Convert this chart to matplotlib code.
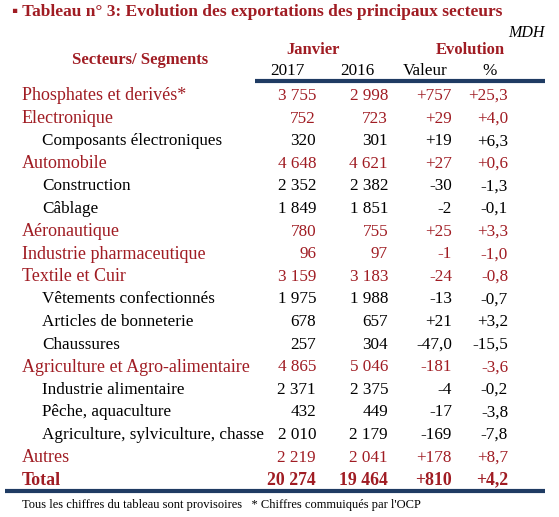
import matplotlib.pyplot as plt

plt.rcParams['font.family'] = ['Liberation Serif', 'DejaVu Serif']

RED = '#a01c23'
NAVY = '#1f3b63'

labels = ['Phosphates et derivés*', 'Electronique', 'Composants électroniques',
          'Automobile', 'Construction', 'Câblage', 'Aéronautique',
          'Industrie pharmaceutique', 'Textile et Cuir', 'Vêtements confectionnés',
          'Articles de bonneterie', 'Chaussures', 'Agriculture et Agro-alimentaire',
          'Industrie alimentaire', 'Pêche, aquaculture',
          'Agriculture, sylviculture, chasse', 'Autres']
is_sector = [1, 1, 0, 1, 0, 0, 1, 1, 1, 0, 0, 0, 1, 0, 0, 0, 1]
v2017 = ['3 755', '752', '320', '4 648', '2 352', '1 849', '780', '96', '3 159',
         '1 975', '678', '257', '4 865', '2 371', '432', '2 010', '2 219']
v2016 = ['2 998', '723', '301', '4 621', '2 382', '1 851', '755', '97', '3 183',
         '1 988', '657', '304', '5 046', '2 375', '449', '2 179', '2 041']
valeur = ['+757', '+29', '+19', '+27', '-30', '-2', '+25', '-1', '-24',
          '-13', '+21', '-47,0', '-181', '-4', '-17', '-169', '+178']
pct = ['+25,3', '+4,0', '+6,3', '+0,6', '-1,3', '-0,1', '+3,3', '-1,0', '-0,8',
       '-0,7', '+3,2', '-15,5', '-3,6', '-0,2', '-3,8', '-7,8', '+8,7']
total = ['Total', '20 274', '19 464', '+810', '+4,2']

fig = plt.figure(figsize=(5.59, 5.17), dpi=100)
ax = fig.add_axes([0, 0, 1, 1])
ax.set_xlim(0, 559)
ax.set_ylim(517, 0)
ax.axis('off')

col_x = [316, 388, 452, 508]
fs = 12.3

ax.text(12, 12, '▪ Tableau n° 3: Evolution des exportations des principaux secteurs',
        color=RED, fontsize=12.5, fontweight='bold', va='center')
ax.text(545, 33, 'MDH', fontsize=11.5, style='italic', ha='right', va='center')
ax.text(140, 60, 'Secteurs/ Segments', color=RED, fontsize=12, fontweight='bold',
        ha='center', va='center')
ax.text(313, 50, 'Janvier', color=RED, fontsize=12, fontweight='bold', ha='center', va='center')
ax.text(470, 50, 'Evolution', color=RED, fontsize=12, fontweight='bold', ha='center', va='center')
for x, h in zip([287, 357, 425, 490], ['2017', '2016', 'Valeur', '%']):
    ax.text(x, 71, h, fontsize=fs, ha='center', va='center')
ax.plot([255, 545], [81, 81], color=NAVY, lw=3, solid_capstyle='butt')

for i, lab in enumerate(labels):
    y = 96 + i * 22.6
    c = RED if is_sector[i] else 'black'
    ax.text(22 if is_sector[i] else 42, y, lab, color=c,
            fontsize=fs + 0.7 if is_sector[i] else fs, va='center')
    for x, v in zip(col_x, [v2017[i], v2016[i], valeur[i], pct[i]]):
        ax.text(x, y, v, color=c, fontsize=fs, ha='right', va='center')

y = 96 + len(labels) * 22.6
ax.text(22, y, total[0], color=RED, fontsize=fs + 0.5, fontweight='bold', va='center')
for x, v in zip(col_x, total[1:]):
    ax.text(x, y, v, color=RED, fontsize=fs + 0.5, fontweight='bold', ha='right', va='center')
ax.plot([5, 545], [491, 491], color=NAVY, lw=3, solid_capstyle='butt')

ax.text(22, 505, "Tous les chiffres du tableau sont provisoires   * Chiffres commuiqués par l'OCP",
        fontsize=9, va='center')

fig.savefig('out.png', dpi=100)
